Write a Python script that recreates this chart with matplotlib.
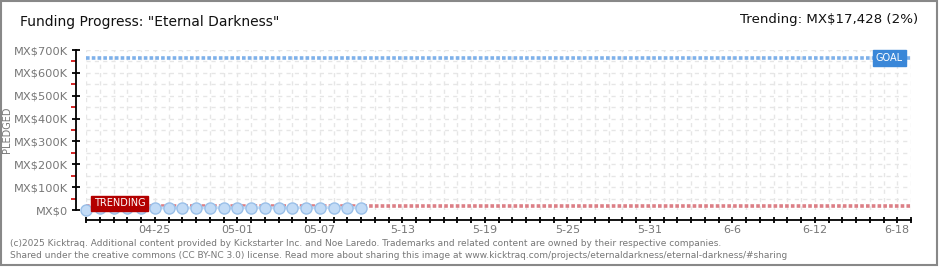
import matplotlib
matplotlib.use("Agg")
import matplotlib.pyplot as plt
import matplotlib.dates as mdates
from matplotlib.ticker import FixedLocator, MultipleLocator, FuncFormatter
import datetime as dt

# ---- data ----
dates = ["2025-04-20", "2025-04-21", "2025-04-22", "2025-04-23", "2025-04-24",
         "2025-04-25", "2025-04-26", "2025-04-27", "2025-04-28", "2025-04-29",
         "2025-04-30", "2025-05-01", "2025-05-02", "2025-05-03", "2025-05-04",
         "2025-05-05", "2025-05-06", "2025-05-07", "2025-05-08", "2025-05-09",
         "2025-05-10"]
pledged = [0, 8200, 8600, 8900, 9100, 9300, 9400, 9500, 9600, 9700,
           9800, 9850, 9900, 9950, 10000, 10050, 10100, 10150, 10200, 10250, 10300]
goal = 666666
trending = 17428
trend_pct = 2
title = 'Funding Progress: "Eternal Darkness"'
x_start, x_end = "2025-04-20", "2025-06-19"
y_ticks = [0, 100000, 200000, 300000, 400000, 500000, 600000, 700000]
y_labels = ["MX$0", "MX$100K", "MX$200K", "MX$300K", "MX$400K", "MX$500K", "MX$600K", "MX$700K"]
footer1 = "(c)2025 Kicktraq. Additional content provided by Kickstarter Inc. and Noe Laredo. Trademarks and related content are owned by their respective companies."
footer2 = "Shared under the creative commons (CC BY-NC 3.0) license. Read more about sharing this image at www.kicktraq.com/projects/eternaldarkness/eternal-darkness/#sharing"

d = [dt.datetime.strptime(s, "%Y-%m-%d") for s in dates]
x0 = dt.datetime.strptime(x_start, "%Y-%m-%d")
x1 = dt.datetime.strptime(x_end, "%Y-%m-%d")

W, H = 940, 270
fig = plt.figure(figsize=(W / 100, H / 100), dpi=100)
fig.patch.set_facecolor("white")

# border
fig.add_artist(plt.Rectangle((1 / W, 5 / H), 936 / W, 264 / H, transform=fig.transFigure,
                             fill=False, edgecolor="#888888", linewidth=1.5))

ax = fig.add_axes([86 / W, 1 - 210 / H, 825 / W, 160 / H])
ax.set_xlim(x0, x1)
ax.set_ylim(0, 700000)

# grid
ax.xaxis.set_major_locator(mdates.DayLocator())
ax.yaxis.set_major_locator(FixedLocator(y_ticks))
ax.yaxis.set_minor_locator(MultipleLocator(50000))
gcol = "#e6e6e6"
ax.grid(True, which="major", axis="x", color=gcol, linestyle=(0, (3, 3)), linewidth=1)
ax.grid(True, which="both", axis="y", color=gcol, linestyle=(0, (3, 3)), linewidth=1)
ax.set_axisbelow(True)

for s in ["top", "right"]:
    ax.spines[s].set_visible(False)
ax.spines["left"].set_position(("outward", 7.2))
ax.spines["bottom"].set_position(("outward", 7.2))
ax.spines["left"].set_linewidth(1.3)
ax.spines["bottom"].set_linewidth(1.3)

# x ticks: every day, labels every 6 days
def xfmt(v, pos):
    dd = mdates.num2date(v)
    delta = (dd.replace(tzinfo=None) - dt.datetime(2025, 4, 25)).days
    if delta % 6 == 0 and delta >= 0:
        if dd.month == 4 or (dd.month == 5 and dd.day <= 7):
            return dd.strftime("%m-%d")
        return "%d-%d" % (dd.month, dd.day)
    return ""
ax.xaxis.set_major_formatter(FuncFormatter(xfmt))
ax.tick_params(axis="x", which="major", length=5, width=1.3, direction="inout",
               colors="black", labelcolor="#777777", labelsize=8, pad=1)
ax.set_yticklabels(y_labels)
ax.tick_params(axis="y", which="major", length=6, width=1.3, direction="inout",
               colors="black", labelcolor="#777777", labelsize=8.2, pad=3)
ax.tick_params(axis="y", which="minor", length=3.5, width=1.2, direction="out", colors="#cc0000")

ax.set_ylabel("PLEDGED", color="#777777", fontsize=7)
ax.yaxis.set_label_coords(-74 / 825, 0.5)

# goal & trending lines
ax.axhline(goal, color="#7fb1ea", linewidth=2.6, linestyle=(0, (1, 0.6)), zorder=2)
ax.axhline(trending, color="#dc7f86", linewidth=2.6, linestyle=(0, (1, 0.6)), zorder=2)

# pledged series
ax.plot(d, pledged, color="#c8def6", linewidth=2, zorder=3, clip_on=False)
ax.plot(d, pledged, linestyle="none", marker="o", markersize=8,
        markerfacecolor="#c2dbf6", markeredgecolor="#99bfe8", markeredgewidth=1,
        zorder=4, clip_on=False)

# labels
ax.text(x0 + dt.timedelta(days=0.55), trending + 12000, "TRENDING", color="white", fontsize=7,
        va="center", ha="left", zorder=5,
        bbox=dict(boxstyle="square,pad=0.25", facecolor="#b30000", edgecolor="#b30000"))
ax.text(x1 - dt.timedelta(days=0.6), goal, "GOAL", color="white", fontsize=7,
        va="center", ha="right", zorder=5,
        bbox=dict(boxstyle="square,pad=0.3", facecolor="#3a87d8", edgecolor="#3a87d8"))

fig.text(20 / W, 1 - 22 / H, title, fontsize=10, color="#111111", va="center", ha="left")
fig.text(918 / W, 1 - 20 / H, "Trending: MX$%s (%d%%)" % (f"{trending:,}", trend_pct),
         fontsize=9.6, color="#111111", va="center", ha="right")
fig.text(10 / W, 1 - 243 / H, footer1, fontsize=6.45, color="#777777", va="center", ha="left")
fig.text(10 / W, 1 - 256 / H, footer2, fontsize=6.45, color="#777777", va="center", ha="left")

fig.savefig("out.png", dpi=100, facecolor="white")
